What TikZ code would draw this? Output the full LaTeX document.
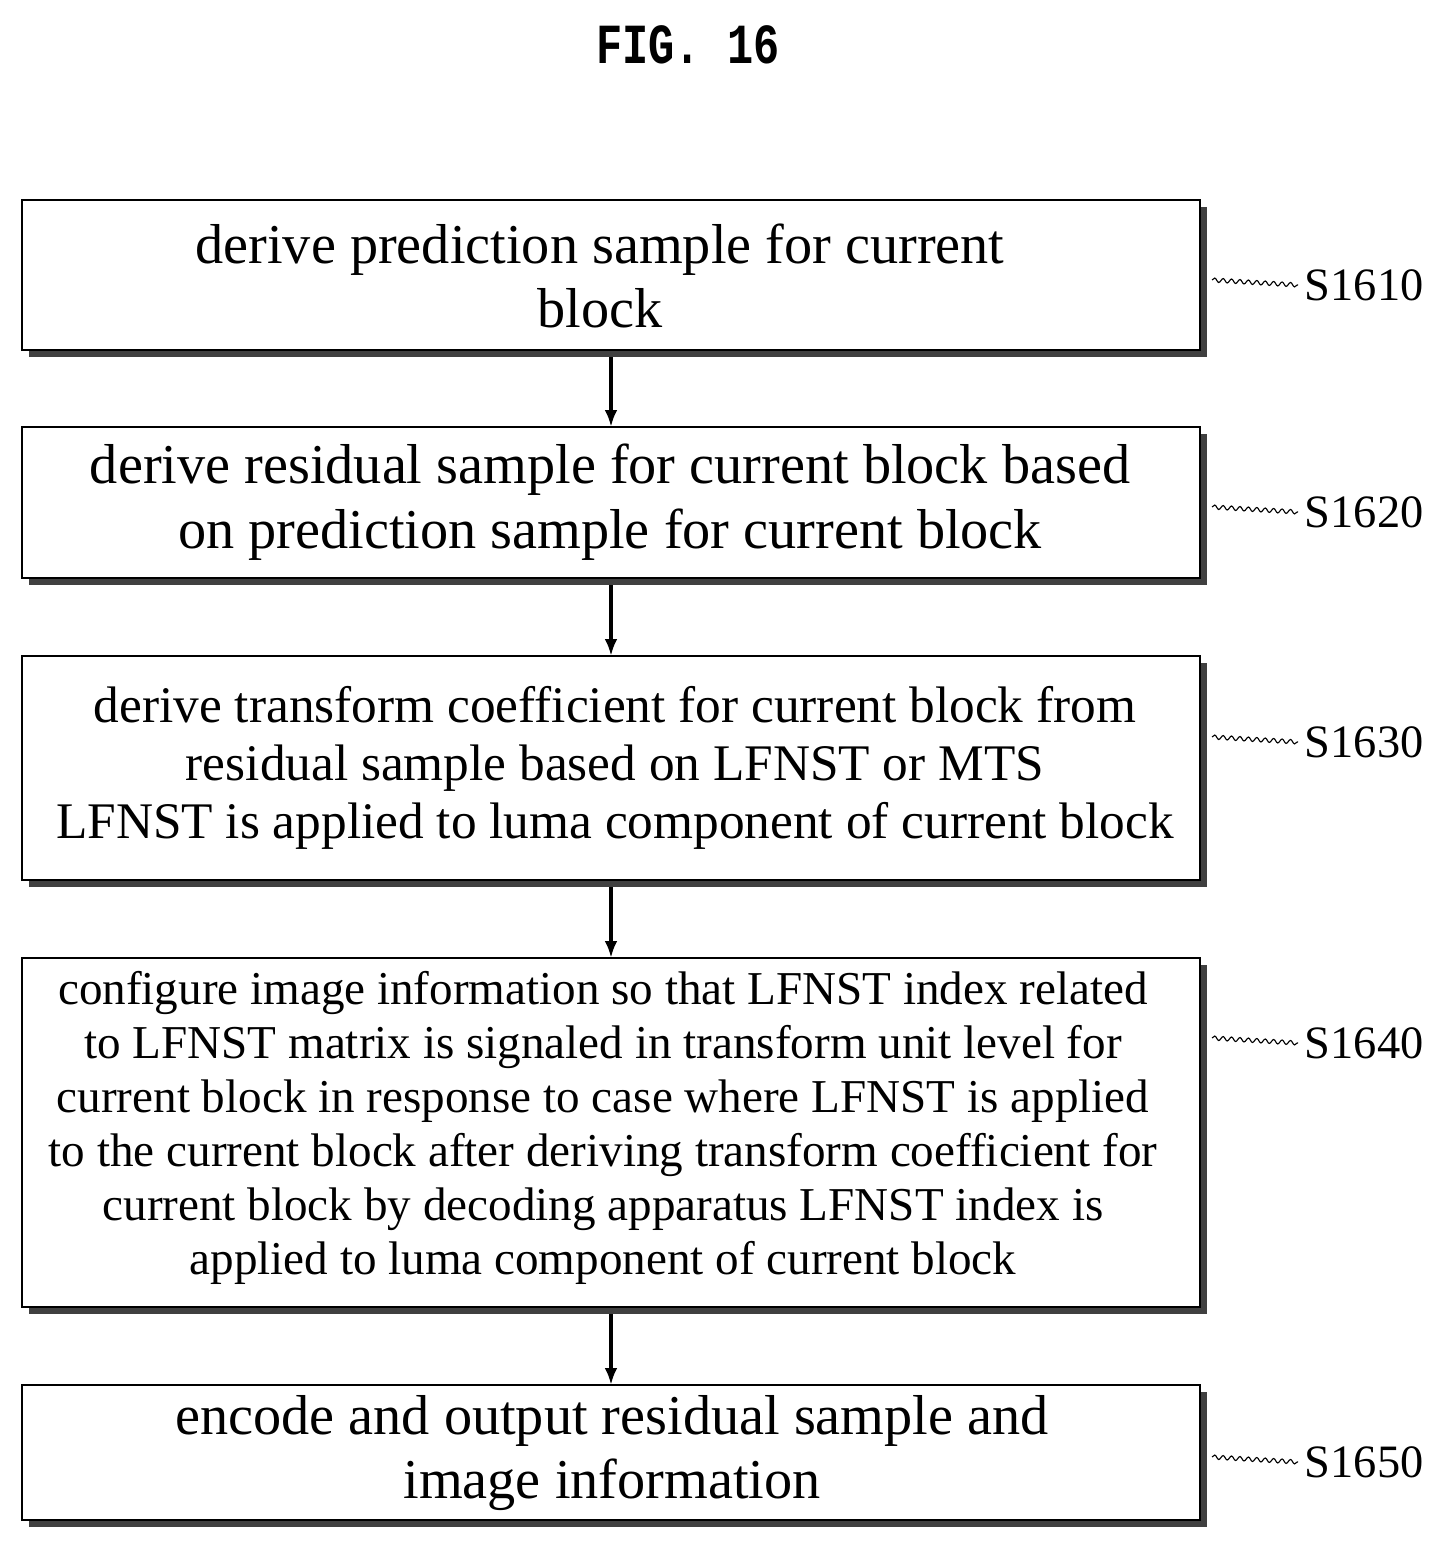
\documentclass[tikz,border=0pt]{standalone}
\usepackage{fontspec}
\setmainfont{Liberation Serif}
\newfontfamily\monof{Liberation Mono}
\usetikzlibrary{arrows.meta,decorations.pathmorphing}
\begin{document}
\begin{tikzpicture}[x=0.025cm,y=-0.025cm,
  shadowbox/.style={fill=black!75},
  arr/.style={-{Latex[length=12pt,width=9pt]},line width=2.5pt},
  sq/.style={decorate,decoration={snake,amplitude=1.5pt,segment length=6pt},line width=0.8pt},
  lab/.style={font=\fontsize{33}{36}\selectfont,anchor=west}]
\useasboundingbox (0,0) rectangle (1443,1544);
\node[font=\monof\bfseries\fontsize{31}{34}\selectfont,yscale=1.3] (title) at (688,45) {FIG. 16};
\foreach \n/\t/\b in {1/200/350,2/427/578,3/656/880,4/958/1307,5/1385/1520}{
  \fill[shadowbox] (29,\t+7) rectangle (1207,\b+7);
  \draw[line width=1.5pt,fill=white] (22,\t) rectangle (1200,\b);
}
\node[font=\fontsize{40}{46}\selectfont,align=center] (t1) at (600,276) {derive prediction sample for current\\block};
\node[font=\fontsize{40}{46}\selectfont,align=center] (t2) at (610,502) {derive residual sample for current block based\\on prediction sample for current block};
\node[font=\fontsize{36.5}{41}\selectfont,align=center] (t3) at (615,768) {derive transform coefficient for current block from\\residual sample based on LFNST or MTS\\LFNST is applied to luma component of current block};
\node[font=\fontsize{33.5}{38.5}\selectfont,align=center] (t4) at (603,1128) {configure image information so that LFNST index related\\to LFNST matrix is signaled in transform unit level for\\current block in response to case where LFNST is applied\\to the current block after deriving transform coefficient for\\current block by decoding apparatus LFNST index is\\applied to luma component of current block};
\node[font=\fontsize{40}{46}\selectfont,align=center] (t5) at (612,1453) {encode and output residual sample and\\image information};
\foreach \a/\b/\y in {350/427/1,578/656/2,880/958/3,1307/1385/4}{
  \coordinate (s\y) at (611,\a+7); \coordinate (e\y) at (611,\b);
  \draw[arr] (s\y) -- (e\y);
}
\foreach \n/\y in {1/285,2/512,3/742,4/1043,5/1462}{
  \coordinate (q\n) at (1212,\y-5);
  \coordinate (r\n) at (1298,\y);
  \draw[sq] (q\n) -- (r\n);
  \node[lab] (L\n) at (1300,\y) {S16\n0};
}
\end{tikzpicture}
\end{document}
